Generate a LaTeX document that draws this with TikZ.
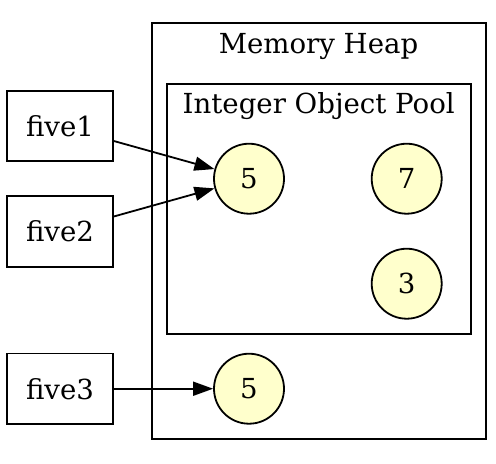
\documentclass[tikz,border=0pt]{standalone}
\usepackage{fontspec}
\setmainfont{DejaVu Serif}
\usetikzlibrary{arrows.meta, positioning, fit}
\definecolor{poolyellow}{RGB}{255, 255, 204}
\tikzset{
  varnode/.style={rectangle, draw, line width=0.9pt, minimum width=52.7pt, minimum height=35.3pt, inner sep=0pt, font=\fontsize{13.8}{16}\selectfont},
  intnode/.style={circle, draw, fill=poolyellow, line width=0.9pt, minimum size=35pt, inner sep=0pt, font=\fontsize{13.8}{16}\selectfont},
  cluster/.style={rectangle, draw, line width=0.9pt, inner sep=0pt},
  clustertitle/.style={anchor=base, inner sep=0pt, font=\fontsize{13.8}{16}\selectfont},
  refedge/.style={draw, line width=0.9pt, -{Triangle[length=10pt, width=7pt]}},
}
\begin{document}
\begin{tikzpicture}[x=0.5pt, y=-0.5pt]
\useasboundingbox (0,0) rectangle (496,463);
% clusters
\node[cluster, fit={(151.7,23.3) (486,439.3)}] (heap) {};
\node[cluster, fit={(166.7,84) (470.7,334)}] (pool) {};
\node[clustertitle] (heaptitle) at (318.5,53.3) {Memory Heap};
\node[clustertitle] (pooltitle) at (318.7,113.3) {Integer Object Pool};
% integer objects
\node[intnode] (pfive) at (249,178.7) {5};
\node[intnode] (pseven) at (406.7,178.7) {7};
\node[intnode] (pthree) at (406.7,283.7) {3};
\node[intnode] (hfive) at (249,388.7) {5};
% variables
\node[varnode] (five1) at (60,126) {five1};
\node[varnode] (five2) at (60,231.5) {five2};
\node[varnode] (five3) at (60,388.7) {five3};
% references
\draw[refedge] (five1) -- (pfive);
\draw[refedge] (five2) -- (pfive);
\draw[refedge] (five3) -- (hfive);
\end{tikzpicture}
\end{document}
